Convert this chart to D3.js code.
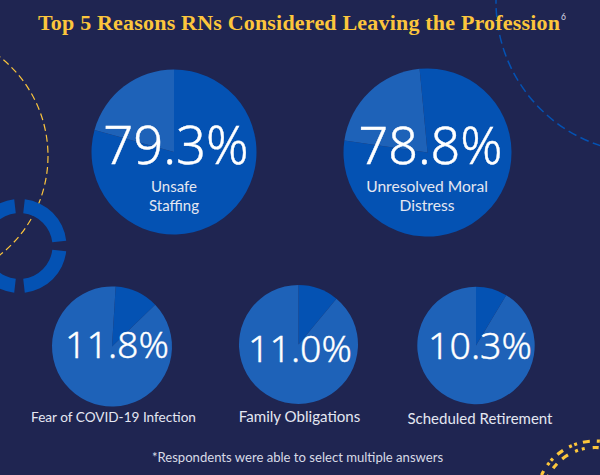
<!DOCTYPE html>
<html>
<head>
<meta charset="utf-8">
<script src="https://cdnjs.cloudflare.com/ajax/libs/d3/7.8.5/d3.min.js"></script>
<style>
  html, body { margin: 0; padding: 0; background: #1f2551; }
  svg { display: block; }
</style>
</head>
<body>
<div id="chart"></div>
<script>
// Data
const reasons = ['Unsafe Staffing', 'Unresolved Moral Distress', 'Fear of COVID-19 Infection', 'Family Obligations', 'Scheduled Retirement']
const labels = ['79.3%', '78.8%', '11.8%', '11.0%', '10.3%']
const shares = [79.3, 78.8, 11.8, 11.0, 8.6] // slice as drawn, last one is drawn smaller than its label
const startDegrees = [0, -5.4, 3.5, 0, 0]
const labelLines = [['Unsafe', 'Staffing'], ['Unresolved Moral', 'Distress'], ['Fear of COVID-19 Infection'], ['Family Obligations'], ['Scheduled Retirement']]

// Presentation
const width = 600
const height = 475
const centers = [[174, 152], [427.5, 152.5], [112, 346.5], [298.5, 344.5], [476, 345.5]]
const radii = [82.5, 84, 60, 59.5, 58.7]
const numberPos = [[176, 164], [430.5, 164], [117, 358], [300, 362], [480, 359]]
const numberSizes = [52.5, 52, 37.5, 37.5, 37.5]
const captionPos = [[174, 192], [427, 192], [113.5, 422], [299.5, 421.5], [480, 423.5]]
const captionSizes = [15, 15.6, 13.6, 15.1, 15]
const darkBlue = '#0452b3'
const lightBlue = '#1e62b8'
const yellow = '#fcc63c'
const sansFont = 'Lato, sans-serif'
const numberFont = '"Noto Sans", sans-serif'

const svg = d3.select('#chart').append('svg')
    .attr('width', width)
    .attr('height', height)

svg.append('rect')
    .attr('width', width)
    .attr('height', height)
    .attr('fill', '#1f2551')

// Decoration
const deco = svg.append('g')

deco.append('circle')
    .attr('cx', -78).attr('cy', 156).attr('r', 126)
    .attr('fill', 'none').attr('stroke', yellow).attr('stroke-width', 1.2)
    .attr('stroke-dasharray', '7 4')

deco.append('circle')
    .attr('cx', 647).attr('cy', 2).attr('r', 151)
    .attr('fill', 'none').attr('stroke', darkBlue).attr('stroke-width', 1.5)
    .attr('stroke-dasharray', '9 4.5')

// Ring with four gaps
const ringArc = d3.arc().innerRadius(33).outerRadius(47)
const ring = deco.append('g').attr('transform', 'translate(19.5, 246)')
d3.range(4).forEach(i => {
    const gapAngle = Math.asin(4.5 / 40)
    ring.append('path')
        .attr('d', ringArc({
            startAngle: i * Math.PI / 2 + gapAngle,
            endAngle: (i + 1) * Math.PI / 2 - gapAngle
        }))
        .attr('fill', darkBlue)
})

// Dotted arcs, bottom right
const dottedArc = (radius, from, to, dashes) => {
    const p = d3.path()
    p.arc(595, 500, radius, from * Math.PI / 180, to * Math.PI / 180, true)
    deco.append('path')
        .attr('d', p.toString())
        .attr('fill', 'none')
        .attr('stroke', yellow)
        .attr('stroke-width', 3.2)
        .attr('stroke-dasharray', dashes)
}
dottedArc(59, -80, -155, '3 2.5 3 7 7 6')
dottedArc(52.5, -86, -155, '6 8 3 4 3 8 7 7')

// Title
svg.append('text')
    .attr('x', 38)
    .attr('y', 30)
    .attr('fill', yellow)
    .attr('font-family', '"Liberation Serif", serif')
    .attr('font-weight', 700)
    .attr('font-size', 22)
    .attr('textLength', 522)
    .text('Top 5 Reasons RNs Considered Leaving the Profession')

svg.append('text')
    .attr('x', 561)
    .attr('y', 20)
    .attr('fill', '#d8dbe6')
    .attr('font-family', sansFont)
    .attr('font-size', 8.5)
    .text('6')

// Pies
const pie = d3.pie().sort(null)
const arc = d3.arc().innerRadius(0)

reasons.forEach((reason, i) => {
    const start = startDegrees[i] * Math.PI / 180
    const slices = pie
        .startAngle(start)
        .endAngle(start + 2 * Math.PI)([shares[i], 100 - shares[i]])

    svg.append('g')
        .attr('class', 'pie')
        .attr('transform', `translate(${centers[i][0]}, ${centers[i][1]})`)
        .selectAll('path')
        .data(slices)
        .enter()
        .append('path')
        .attr('d', d => arc.outerRadius(radii[i])(d))
        .attr('fill', (_, index) => index === 0 ? darkBlue : lightBlue)

    svg.append('text')
        .attr('text-anchor', 'middle')
        .attr('x', numberPos[i][0])
        .attr('y', numberPos[i][1])
        .attr('fill', '#fff')
        .attr('stroke', '#fff')
        .attr('stroke-width', 0.4)
        .attr('font-family', numberFont)
        .attr('font-weight', 300)
        .attr('font-size', numberSizes[i])
        .text(labels[i])

    labelLines[i].forEach((line, lineIndex) => {
        svg.append('text')
            .attr('text-anchor', 'middle')
            .attr('x', captionPos[i][0])
            .attr('y', captionPos[i][1] + lineIndex * 19)
            .attr('fill', '#e4e7f1')
            .attr('font-family', sansFont)
            .attr('font-size', captionSizes[i])
            .text(line)
    })
})

// Footnote
svg.append('text')
    .attr('x', 297.5)
    .attr('y', 462)
    .attr('text-anchor', 'middle')
    .attr('fill', '#d8dbe6')
    .attr('font-family', sansFont)
    .attr('font-size', 13.1)
    .text('*Respondents were able to select multiple answers')
</script>
</body>
</html>
